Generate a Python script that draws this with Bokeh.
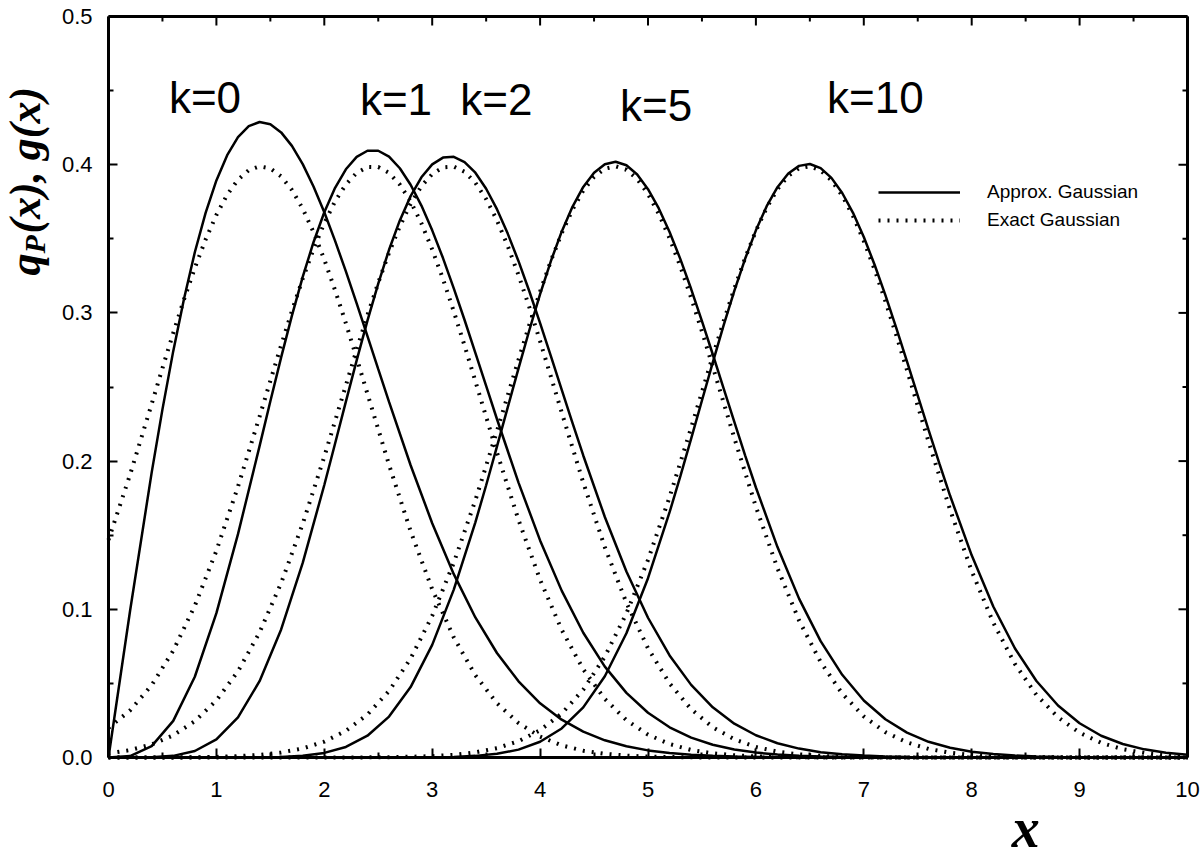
from math import pi
from bokeh.plotting import figure
from bokeh.models import (Range1d, FixedTicker, NumeralTickFormatter,
                          Label, Legend, LegendItem)
from bokeh.embed import file_html
from bokeh.resources import INLINE

# ---------------- data ----------------
X = [0.0, 0.2, 0.4, 0.6, 0.8, 1.0, 1.2, 1.4, 1.6, 1.8,
     2.0, 2.2, 2.4, 2.6, 2.8, 3.0, 3.2, 3.4, 3.6, 3.8,
     4.0, 4.2, 4.4, 4.6, 4.8, 5.0, 5.2, 5.4, 5.6, 5.8,
     6.0, 6.2, 6.4, 6.6, 6.8, 7.0, 7.2, 7.4, 7.6, 7.8,
     8.0, 8.2, 8.4, 8.6, 8.8, 9.0, 9.2, 9.4, 9.6, 9.8,
     10.0]

# solid curves: approximate Gaussian q_P(x), on the grid X
APPROX_K0 = [0.0, 0.0990, 0.1922, 0.2742, 0.3409, 0.3894, 0.4186, 0.4288, 0.4218, 0.4004,
             0.3679, 0.3280, 0.2843, 0.2399, 0.1972, 0.1581, 0.1237, 0.0945, 0.0705, 0.0514,
             0.0366, 0.0255, 0.0174, 0.0116, 0.0076, 0.0048, 0.0030, 0.0018, 0.0011, 0.0006,
             0.0004, 0.0002, 0.0001, 0.0001, 0.0, 0.0, 0.0, 0.0, 0.0, 0.0,
             0.0, 0.0, 0.0, 0.0, 0.0, 0.0, 0.0, 0.0, 0.0, 0.0,
             0.0]
APPROX_K1 = [0.0, 0.0010, 0.0077, 0.0247, 0.0545, 0.0974, 0.1507, 0.2101, 0.2700, 0.3243,
             0.3679, 0.3969, 0.4094, 0.4054, 0.3865, 0.3557, 0.3166, 0.2730, 0.2284, 0.1855,
             0.1465, 0.1126, 0.0842, 0.0613, 0.0436, 0.0302, 0.0204, 0.0134, 0.0086, 0.0054,
             0.0033, 0.0020, 0.0012, 0.0007, 0.0004, 0.0002, 0.0001, 0.0001, 0.0, 0.0,
             0.0, 0.0, 0.0, 0.0, 0.0, 0.0, 0.0, 0.0, 0.0, 0.0,
             0.0]
APPROX_K2 = [0.0, 0.0, 0.0002, 0.0011, 0.0044, 0.0122, 0.0271, 0.0515, 0.0864, 0.1313,
             0.1839, 0.2401, 0.2948, 0.3426, 0.3788, 0.4002, 0.4053, 0.3946, 0.3700, 0.3349,
             0.2931, 0.2482, 0.2038, 0.1623, 0.1255, 0.0943, 0.0689, 0.0490, 0.0339, 0.0228,
             0.0150, 0.0096, 0.0060, 0.0036, 0.0022, 0.0013, 0.0007, 0.0004, 0.0002, 0.0001,
             0.0001, 0.0, 0.0, 0.0, 0.0, 0.0, 0.0, 0.0, 0.0, 0.0,
             0.0]
APPROX_K5 = [0.0, 0.0, 0.0, 0.0, 0.0, 0.0, 0.0, 0.0001, 0.0004, 0.0012,
             0.0031, 0.0071, 0.0147, 0.0276, 0.0475, 0.0760, 0.1133, 0.1587, 0.2098, 0.2626,
             0.3126, 0.3548, 0.3850, 0.4003, 0.3996, 0.3835, 0.3546, 0.3161, 0.2721, 0.2264,
             0.1822, 0.1420, 0.1072, 0.0785, 0.0558, 0.0385, 0.0258, 0.0168, 0.0106, 0.0066,
             0.0039, 0.0023, 0.0013, 0.0007, 0.0004, 0.0002, 0.0001, 0.0001, 0.0, 0.0,
             0.0]
APPROX_K10 = [0.0, 0.0, 0.0, 0.0, 0.0, 0.0, 0.0, 0.0, 0.0, 0.0,
              0.0, 0.0, 0.0, 0.0, 0.0, 0.0001, 0.0004, 0.0011, 0.0025, 0.0053,
              0.0106, 0.0196, 0.0338, 0.0548, 0.0838, 0.1210, 0.1655, 0.2152, 0.2665, 0.3149,
              0.3557, 0.3848, 0.3992, 0.3977, 0.3809, 0.3512, 0.3120, 0.2673, 0.2210, 0.1766,
              0.1364, 0.1019, 0.0737, 0.0516, 0.0351, 0.0231, 0.0147, 0.0091, 0.0055, 0.0032,
              0.0018]

# extra readings around each peak (odd tenths)
APPROX_K0_PEAK_X = [0.5, 0.7, 0.9, 1.1, 1.3, 1.5, 1.7, 1.9, 2.1, 2.3, 2.5]
APPROX_K0_PEAK = [0.2349, 0.3096, 0.3675, 0.4064, 0.4260, 0.4273, 0.4127, 0.3853, 0.3486, 0.3064, 0.2620]
APPROX_K1_PEAK_X = [1.5, 1.7, 1.9, 2.1, 2.3, 2.5, 2.7, 2.9, 3.1, 3.3, 3.5]
APPROX_K1_PEAK = [0.2404, 0.2982, 0.3477, 0.3844, 0.4053, 0.4094, 0.3976, 0.3724, 0.3370, 0.2952, 0.2507]
APPROX_K2_PEAK_X = [2.1, 2.3, 2.5, 2.7, 2.9, 3.1, 3.3, 3.5, 3.7, 3.9, 4.1, 4.3]
APPROX_K2_PEAK = [0.2119, 0.2680, 0.3198, 0.3624, 0.3915, 0.4048, 0.4018, 0.3838, 0.3535, 0.3146, 0.2708, 0.2258]
APPROX_K5_PEAK_X = [3.5, 3.7, 3.9, 4.1, 4.3, 4.5, 4.7, 4.9, 5.1, 5.3, 5.5, 5.7, 5.9]
APPROX_K5_PEAK = [0.1837, 0.2362, 0.2883, 0.3350, 0.3716, 0.3946, 0.4020, 0.3934, 0.3705, 0.3363, 0.2945, 0.2492, 0.2039]
APPROX_K10_PEAK_X = [5.3, 5.5, 5.7, 5.9, 6.1, 6.3, 6.5, 6.7, 6.9, 7.1, 7.3, 7.5, 7.7]
APPROX_K10_PEAK = [0.1899, 0.2409, 0.2914, 0.3365, 0.3720, 0.3940, 0.4005, 0.3911, 0.3675, 0.3325, 0.2901, 0.2441, 0.1984]

# dotted curves: exact Gaussian g(x), on the grid X
EXACT_K0 = [0.1468, 0.1909, 0.2385, 0.2864, 0.3304, 0.3661, 0.3899, 0.3989, 0.3921, 0.3703,
            0.3360, 0.2930, 0.2454, 0.1975, 0.1527, 0.1135, 0.0810, 0.0555, 0.0366, 0.0232,
            0.0141, 0.0082, 0.0046, 0.0025, 0.0013, 0.0006, 0.0003, 0.0001, 0.0, 0.0,
            0.0, 0.0, 0.0, 0.0, 0.0, 0.0, 0.0, 0.0, 0.0, 0.0,
            0.0, 0.0, 0.0, 0.0, 0.0, 0.0, 0.0, 0.0, 0.0, 0.0,
            0.0]
EXACT_K1 = [0.0199, 0.0318, 0.0488, 0.0721, 0.1024, 0.1395, 0.1828, 0.2300, 0.2781, 0.3231,
            0.3606, 0.3867, 0.3985, 0.3945, 0.3752, 0.3428, 0.3010, 0.2539, 0.2058, 0.1603,
            0.1199, 0.0862, 0.0595, 0.0395, 0.0252, 0.0154, 0.0091, 0.0051, 0.0028, 0.0015,
            0.0007, 0.0004, 0.0002, 0.0001, 0.0, 0.0, 0.0, 0.0, 0.0, 0.0,
            0.0, 0.0, 0.0, 0.0, 0.0, 0.0, 0.0, 0.0, 0.0, 0.0,
            0.0]
EXACT_K2 = [0.0027, 0.0050, 0.0088, 0.0150, 0.0245, 0.0385, 0.0582, 0.0844, 0.1177, 0.1577,
            0.2030, 0.2511, 0.2984, 0.3406, 0.3736, 0.3937, 0.3987, 0.3878, 0.3625, 0.3255,
            0.2809, 0.2329, 0.1855, 0.1419, 0.1044, 0.0737, 0.0500, 0.0326, 0.0204, 0.0123,
            0.0071, 0.0040, 0.0021, 0.0011, 0.0005, 0.0003, 0.0001, 0.0, 0.0, 0.0,
            0.0, 0.0, 0.0, 0.0, 0.0, 0.0, 0.0, 0.0, 0.0, 0.0,
            0.0]
EXACT_K5 = [0.0, 0.0, 0.0, 0.0, 0.0002, 0.0004, 0.0009, 0.0018, 0.0034, 0.0061,
            0.0107, 0.0180, 0.0290, 0.0449, 0.0668, 0.0956, 0.1314, 0.1735, 0.2202, 0.2684,
            0.3143, 0.3537, 0.3825, 0.3973, 0.3966, 0.3803, 0.3504, 0.3102, 0.2638, 0.2156,
            0.1692, 0.1277, 0.0925, 0.0644, 0.0431, 0.0277, 0.0171, 0.0102, 0.0058, 0.0032,
            0.0017, 0.0008, 0.0004, 0.0002, 0.0001, 0.0, 0.0, 0.0, 0.0, 0.0,
            0.0]
EXACT_K10 = [0.0, 0.0, 0.0, 0.0, 0.0, 0.0, 0.0, 0.0, 0.0, 0.0,
             0.0, 0.0, 0.0001, 0.0002, 0.0005, 0.0009, 0.0018, 0.0035, 0.0063, 0.0110,
             0.0184, 0.0296, 0.0458, 0.0681, 0.0972, 0.1333, 0.1757, 0.2225, 0.2707, 0.3164,
             0.3554, 0.3835, 0.3976, 0.3961, 0.3791, 0.3486, 0.3080, 0.2615, 0.2132, 0.1671,
             0.1258, 0.0910, 0.0632, 0.0422, 0.0271, 0.0167, 0.0099, 0.0056, 0.0031, 0.0016,
             0.0008]

EXACT_K0_PEAK_X = [0.5, 0.7, 0.9, 1.1, 1.3, 1.5, 1.7, 1.9, 2.1, 2.3]
EXACT_K0_PEAK = [0.2627, 0.3091, 0.3495, 0.3797, 0.3963, 0.3975, 0.3830, 0.3545, 0.3153, 0.2695]
EXACT_K1_PEAK_X = [1.5, 1.7, 1.9, 2.1, 2.3, 2.5, 2.7, 2.9, 3.1, 3.3]
EXACT_K1_PEAK = [0.2542, 0.3013, 0.3430, 0.3753, 0.3945, 0.3984, 0.3866, 0.3604, 0.3229, 0.2779]
EXACT_K2_PEAK_X = [2.3, 2.5, 2.7, 2.9, 3.1, 3.3, 3.5, 3.7, 3.9, 4.1]
EXACT_K2_PEAK = [0.2751, 0.3204, 0.3585, 0.3855, 0.3982, 0.3952, 0.3768, 0.3452, 0.3039, 0.2570]
EXACT_K5_PEAK_X = [3.7, 3.9, 4.1, 4.3, 4.5, 4.7, 4.9, 5.1, 5.3, 5.5, 5.7]
EXACT_K5_PEAK = [0.2443, 0.2919, 0.3351, 0.3697, 0.3918, 0.3989, 0.3903, 0.3668, 0.3313, 0.2875, 0.2397]
EXACT_K10_PEAK_X = [5.5, 5.7, 5.9, 6.1, 6.3, 6.5, 6.7, 6.9, 7.1, 7.3, 7.5]
EXACT_K10_PEAK = [0.2466, 0.2941, 0.3370, 0.3710, 0.3925, 0.3989, 0.3895, 0.3654, 0.3293, 0.2852, 0.2373]

APPROX_SERIES = [(APPROX_K0, APPROX_K0_PEAK_X, APPROX_K0_PEAK),
                 (APPROX_K1, APPROX_K1_PEAK_X, APPROX_K1_PEAK),
                 (APPROX_K2, APPROX_K2_PEAK_X, APPROX_K2_PEAK),
                 (APPROX_K5, APPROX_K5_PEAK_X, APPROX_K5_PEAK),
                 (APPROX_K10, APPROX_K10_PEAK_X, APPROX_K10_PEAK)]
EXACT_SERIES = [(EXACT_K0, EXACT_K0_PEAK_X, EXACT_K0_PEAK),
                (EXACT_K1, EXACT_K1_PEAK_X, EXACT_K1_PEAK),
                (EXACT_K2, EXACT_K2_PEAK_X, EXACT_K2_PEAK),
                (EXACT_K5, EXACT_K5_PEAK_X, EXACT_K5_PEAK),
                (EXACT_K10, EXACT_K10_PEAK_X, EXACT_K10_PEAK)]

CURVE_LABELS = ["k=0", "k=1", "k=2", "k=5", "k=10"]
CURVE_LABEL_X = [0.56, 2.33, 3.26, 4.74, 6.66]
CURVE_LABEL_Y = [0.4453, 0.4440, 0.4440, 0.4399, 0.4453]

X_TICKS = [0, 1, 2, 3, 4, 5, 6, 7, 8, 9, 10]
X_MINOR = [0.5, 1.5, 2.5, 3.5, 4.5, 5.5, 6.5, 7.5, 8.5, 9.5]
Y_TICKS = [0.0, 0.1, 0.2, 0.3, 0.4, 0.5]
Y_MINOR = [0.05, 0.15, 0.25, 0.35, 0.45]

SANS = "Liberation Sans"
SERIF = "Liberation Serif"


def merged(grid_y, extra_x, extra_y):
    pts = sorted(list(zip(X, grid_y)) + list(zip(extra_x, extra_y)))
    return [a for a, _ in pts], [b for _, b in pts]


# ---------------- layout (pixels) ----------------
W, H = 1200, 860
PX0, PX1 = 108.0, 1187.0     # screen x of x=0 and x=10
PY0, PY1 = 757.0, 16.0       # screen y of y=0 and y=0.5
sx = (PX1 - PX0) / (X_TICKS[-1] - X_TICKS[0])
sy = (PY0 - PY1) / (Y_TICKS[-1] - Y_TICKS[0])
x_range = Range1d(X_TICKS[0] - PX0 / sx, X_TICKS[-1] + (W - PX1) / sx)
y_range = Range1d(Y_TICKS[0] - (H - PY0) / sy, Y_TICKS[-1] + PY1 / sy)

p = figure(width=W, height=H, output_backend="svg", toolbar_location=None,
           x_range=x_range, y_range=y_range, min_border=0)
p.outline_line_color = None
p.grid.grid_line_color = None
p.background_fill_color = "white"
p.border_fill_color = "white"


def style_axis(ax, ticks, minor, fmt, standoff, loc, bounds):
    ax.fixed_location = loc
    ax.bounds = bounds
    ax.ticker = FixedTicker(ticks=ticks, minor_ticks=minor)
    ax.formatter = NumeralTickFormatter(format=fmt)
    ax.axis_line_width = 3
    ax.axis_line_color = "black"
    ax.major_tick_in = 9
    ax.major_tick_out = 0
    ax.minor_tick_in = 5
    ax.minor_tick_out = 0
    ax.major_tick_line_width = 2
    ax.minor_tick_line_width = 2
    ax.major_tick_line_color = "black"
    ax.minor_tick_line_color = "black"
    ax.major_label_text_font = SANS
    ax.major_label_text_color = "black"
    ax.major_label_text_font_size = "22px"
    ax.major_label_standoff = standoff


style_axis(p.xaxis[0], X_TICKS, X_MINOR, "0", 24, Y_TICKS[0], (X_TICKS[0], X_TICKS[-1]))
style_axis(p.yaxis[0], Y_TICKS, Y_MINOR, "0.0", 16, X_TICKS[0], (Y_TICKS[0], Y_TICKS[-1]))

# top and right frame lines with inward ticks
top, right = Y_TICKS[-1], X_TICKS[-1]
p.line([X_TICKS[0], X_TICKS[-1]], [top, top], line_color="black", line_width=3)
p.line([right, right], [Y_TICKS[0], Y_TICKS[-1]], line_color="black", line_width=3)
p.ray(x=X_TICKS, y=[top] * len(X_TICKS), length=9, length_units="screen",
      angle=-pi / 2, line_color="black", line_width=2)
p.ray(x=X_MINOR, y=[top] * len(X_MINOR), length=5, length_units="screen",
      angle=-pi / 2, line_color="black", line_width=2)
p.ray(x=[right] * len(Y_TICKS), y=Y_TICKS, length=9, length_units="screen",
      angle=pi, line_color="black", line_width=2)
p.ray(x=[right] * len(Y_MINOR), y=Y_MINOR, length=5, length_units="screen",
      angle=pi, line_color="black", line_width=2)

# ---------------- curves ----------------
approx_renderers = []
exact_renderers = []
for grid_y, ex, ey in EXACT_SERIES:
    xs, ys = merged(grid_y, ex, ey)
    exact_renderers.append(p.line(xs, ys, line_color="black", line_width=4, line_dash="2 7"))
for grid_y, ex, ey in APPROX_SERIES:
    xs, ys = merged(grid_y, ex, ey)
    approx_renderers.append(p.line(xs, ys, line_color="black", line_width=2.5))

# ---------------- curve labels ----------------
for txt, lx, ly in zip(CURVE_LABELS, CURVE_LABEL_X, CURVE_LABEL_Y):
    p.add_layout(Label(x=lx, y=ly, text=txt, text_font=SANS, text_font_size="44px",
                       text_align="left", text_baseline="alphabetic", text_color="black"))

# ---------------- legend ----------------
legend = Legend(items=[LegendItem(label="Approx. Gaussian", renderers=[approx_renderers[0]]),
                       LegendItem(label="Exact Gaussian", renderers=[exact_renderers[0]])],
                location=(878, H - 231), glyph_width=82, glyph_height=20, label_height=20,
                spacing=6, padding=0, margin=0, label_standoff=27,
                border_line_alpha=0, background_fill_alpha=0,
                label_text_font=SANS, label_text_font_size="19px", label_text_color="black")
p.add_layout(legend)

# ---------------- axis titles ----------------
yl_x, yl_y = -0.769, 0.3252
common = dict(angle=pi / 2, text_font=SERIF, text_font_style="bold italic",
              text_align="left", text_baseline="alphabetic", text_color="black")
p.add_layout(Label(x=yl_x, y=yl_y, text="q", text_font_size="44px", **common))
p.add_layout(Label(x=yl_x, y=yl_y, text="P", x_offset=9, y_offset=22,
                   text_font_size="30px", **common))
p.add_layout(Label(x=yl_x, y=yl_y, text="(x), g(x)", y_offset=42,
                   text_font_size="44px", **common))
p.add_layout(Label(x=8.5, y=-0.0479, text="x", text_font=SERIF,
                   text_font_style="bold italic", text_font_size="56px",
                   text_align="center", text_baseline="alphabetic", text_color="black"))

open("out.html", "w").write(file_html(p, INLINE))
